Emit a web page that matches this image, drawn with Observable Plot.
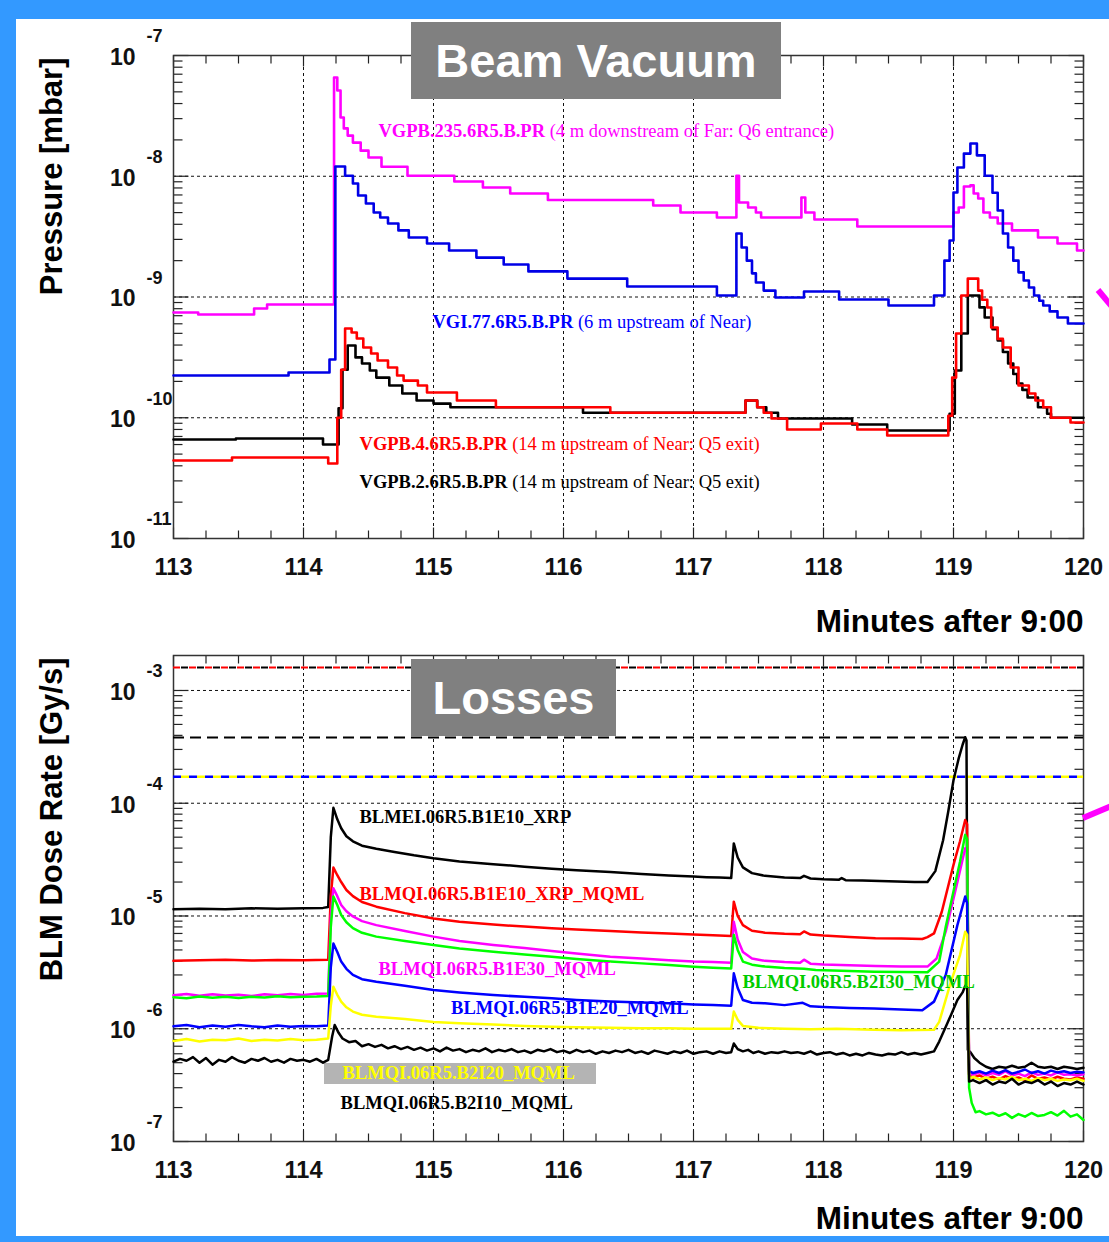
<!DOCTYPE html>
<html><head><meta charset="utf-8">
<script src="https://cdn.jsdelivr.net/npm/d3@7"></script>
<script src="https://cdn.jsdelivr.net/npm/@observablehq/plot@0.6"></script>
<style>
html,body{margin:0;padding:0;}
body{width:1109px;height:1242px;background:#3399ff;position:relative;overflow:hidden;}
#sheet{position:absolute;left:16px;top:19px;width:1093px;height:1217px;background:#fff;overflow:hidden;}
#inner{position:absolute;left:-16px;top:-19px;width:1109px;height:1242px;}
.abs{position:absolute;}
.title{position:absolute;background:#808080;color:#fff;font:bold 47px "Liberation Sans",Arial,sans-serif;display:flex;align-items:center;justify-content:center;}
.arrow{position:absolute;height:6px;background:#ff00ff;transform-origin:0 50%;}
</style></head>
<body>
<div id="sheet"><div id="inner">
  <div class="abs" style="left:324px;top:1063px;width:272px;height:21px;background:#b4b4b4"></div>
  <div id="top" class="abs" style="left:0;top:0"></div>
  <div id="bottom" class="abs" style="left:0;top:640px"></div>
  <div class="title" style="left:411px;top:22px;width:370px;height:77px">Beam Vacuum</div>
  <div class="title" style="left:411px;top:659px;width:205px;height:77px">Losses</div>
  <div class="arrow" style="left:1098px;top:287px;width:22px;transform:rotate(50deg)"></div>
  <div class="arrow" style="left:1083px;top:815px;width:32px;transform:rotate(-23deg)"></div>
</div></div>
<script>
// ---------------- DATA ----------------
const xMajor = [113, 114, 115, 116, 117, 118, 119, 120];
const vacDecades = [1e-11, 1e-10, 1e-9, 1e-8, 1e-7];
const blmDecades = [1e-7, 1e-6, 1e-5, 1e-4, 1e-3];

// Pressure [mbar] vs minutes after 9:00 (step data)
const vgpb235 = [[113.00,7.44e-10],[113.19,7.16e-10],[113.62,8.03e-10],[113.72,8.67e-10],[114.235,6.57e-8],[114.26,5.13e-8],[114.285,3.07e-8],[114.31,2.49e-8],[114.34,2.17e-8],[114.38,1.90e-8],[114.44,1.63e-8],[114.50,1.43e-8],[114.60,1.20e-8],[114.80,1.01e-8],[115.16,9.05e-9],[115.38,8.07e-9],[115.59,7.20e-9],[115.88,6.35e-9],[116.69,5.73e-9],[116.90,5.01e-9],[117.18,4.55e-9],[117.33,1.01e-8],[117.35,6.06e-9],[117.42,5.51e-9],[117.48,5.01e-9],[117.52,4.55e-9],[117.83,6.67e-9],[117.86,5.01e-9],[117.93,4.38e-9],[118.26,3.84e-9],[119.00,5.01e-9],[119.04,5.51e-9],[119.08,8.22e-9],[119.13,8.4e-9],[119.155,7.2e-9],[119.19,6.55e-9],[119.23,5.01e-9],[119.28,4.55e-9],[119.34,4.06e-9],[119.45,3.56e-9],[119.65,3.11e-9],[119.80,2.77e-9],[119.95,2.43e-9],[120.0,2.43e-9]];
const vgi77 = [[113.00,2.24e-10],[113.885,2.37e-10],[114.20,3.04e-10],[114.245,1.205e-8],[114.32,1.01e-8],[114.38,8.71e-9],[114.42,6.93e-9],[114.48,5.95e-9],[114.54,5.01e-9],[114.59,4.55e-9],[114.65,4.06e-9],[114.73,3.56e-9],[114.81,3.11e-9],[114.95,2.77e-9],[115.12,2.43e-9],[115.33,2.12e-9],[115.54,1.86e-9],[115.73,1.63e-9],[116.03,1.42e-9],[116.49,1.22e-9],[117.18,1.03e-9],[117.33,3.36e-9],[117.37,2.57e-9],[117.41,2.00e-9],[117.45,1.57e-9],[117.48,1.32e-9],[117.54,1.13e-9],[117.63,9.9e-10],[117.85,1.11e-9],[118.12,9.53e-10],[118.50,8.5e-10],[118.85,1.03e-9],[118.93,2.0e-9],[118.97,2.94e-9],[119.00,7.33e-9],[119.03,1.18e-8],[119.08,1.54e-8],[119.13,1.87e-8],[119.18,1.49e-8],[119.24,1.01e-8],[119.30,7.3e-9],[119.34,5.2e-9],[119.38,3.36e-9],[119.42,2.57e-9],[119.46,2.0e-9],[119.50,1.6e-9],[119.54,1.37e-9],[119.58,1.2e-9],[119.62,1.03e-9],[119.66,9.3e-10],[119.69,8.5e-10],[119.74,7.6e-10],[119.80,6.77e-10],[119.88,6.03e-10],[120.0,6.03e-10]];
const vgpb4 = [[113.00,4.43e-11],[113.45,4.69e-11],[114.19,4.18e-11],[114.26,1.0e-10],[114.29,2.5e-10],[114.32,5.48e-10],[114.37,5.08e-10],[114.41,4.53e-10],[114.46,3.82e-10],[114.52,3.40e-10],[114.57,2.98e-10],[114.65,2.61e-10],[114.72,2.24e-10],[114.77,2.03e-10],[114.88,1.85e-10],[114.95,1.62e-10],[115.18,1.39e-10],[115.48,1.22e-10],[116.36,1.10e-10],[117.40,1.39e-10],[117.49,1.22e-10],[117.54,1.10e-10],[117.60,9.86e-11],[117.72,8.0e-11],[117.98,8.96e-11],[118.26,8.0e-11],[118.49,7.13e-11],[118.96,1.04e-10],[118.99,2.15e-10],[119.02,4.99e-10],[119.06,1.03e-9],[119.11,1.42e-9],[119.19,1.13e-9],[119.22,9.5e-10],[119.26,8.18e-10],[119.29,5.59e-10],[119.34,4.5e-10],[119.38,3.82e-10],[119.44,2.61e-10],[119.50,1.85e-10],[119.58,1.59e-10],[119.63,1.39e-10],[119.69,1.22e-10],[119.75,1.0e-10],[119.90,9.14e-11],[120.0,9.14e-11]];
const vgpb2 = [[113.00,6.61e-11],[113.48,6.73e-11],[114.15,6.0e-11],[114.27,1.2e-10],[114.30,2.5e-10],[114.34,3.97e-10],[114.40,3.16e-10],[114.45,2.81e-10],[114.51,2.46e-10],[114.56,2.15e-10],[114.66,1.85e-10],[114.76,1.59e-10],[114.87,1.39e-10],[115.0,1.31e-10],[115.13,1.22e-10],[116.15,1.10e-10],[117.40,1.39e-10],[117.49,1.22e-10],[117.56,1.10e-10],[117.65,9.86e-11],[118.22,8.79e-11],[118.49,7.84e-11],[118.97,1.08e-10],[119.01,2.46e-10],[119.06,4.99e-10],[119.11,1.03e-9],[119.20,8.2e-10],[119.24,6.77e-10],[119.30,5.4e-10],[119.34,4.36e-10],[119.38,3.5e-10],[119.42,2.81e-10],[119.46,2.3e-10],[119.49,1.92e-10],[119.53,1.7e-10],[119.57,1.47e-10],[119.65,1.22e-10],[119.72,1.08e-10],[119.75,1.0e-10],[120.0,1.0e-10]];

// BLM dose rate [Gy/s]
const blmei = [[113.0,1.15e-5],[113.2,1.16e-5],[113.4,1.15e-5],[113.6,1.17e-5],[113.8,1.16e-5],[114.0,1.17e-5],[114.15,1.18e-5],[114.19,1.2e-5],[114.21,5.0e-5],[114.23,9.1e-5],[114.26,7.2e-5],[114.29,6.0e-5],[114.33,5.1e-5],[114.38,4.6e-5],[114.45,4.2e-5],[114.56,3.95e-5],[114.7,3.7e-5],[114.85,3.45e-5],[115.0,3.25e-5],[115.2,3.05e-5],[115.46,2.88e-5],[115.7,2.74e-5],[115.91,2.62e-5],[116.1,2.54e-5],[116.36,2.45e-5],[116.6,2.36e-5],[116.81,2.29e-5],[117.0,2.24e-5],[117.1,2.21e-5],[117.2,2.19e-5],[117.29,2.17e-5],[117.31,4.4e-5],[117.34,3.3e-5],[117.38,2.7e-5],[117.45,2.4e-5],[117.55,2.27e-5],[117.7,2.2e-5],[117.82,2.17e-5],[117.85,2.27e-5],[117.9,2.15e-5],[118.0,2.12e-5],[118.12,2.1e-5],[118.14,2.17e-5],[118.17,2.08e-5],[118.3,2.06e-5],[118.5,2.03e-5],[118.7,2.0e-5],[118.8,2.0e-5],[118.86,2.5e-5],[118.92,4.7e-5],[118.96,8.5e-5],[119.0,1.6e-4],[119.04,2.5e-4],[119.07,3.3e-4],[119.09,3.85e-4],[119.1,3.6e-4],[119.11,6.5e-7],[119.13,6.2e-7],[119.16,5.5e-7],[119.2,5.0e-7],[119.25,4.6e-7],[119.3,4.4e-7],[119.35,4.6e-7],[119.4,4.5e-7],[119.45,4.7e-7],[119.5,4.5e-7],[119.55,4.6e-7],[119.6,5.0e-7],[119.65,4.6e-7],[119.7,4.5e-7],[119.75,4.6e-7],[119.8,4.4e-7],[119.85,4.6e-7],[119.9,4.5e-7],[119.95,4.4e-7],[120.0,4.5e-7]];
const b1e10 = [[113.0,4.0e-6],[113.2,4.05e-6],[113.4,4.1e-6],[113.6,4.02e-6],[113.8,4.08e-6],[114.0,4.05e-6],[114.19,4.1e-6],[114.21,1.5e-5],[114.23,2.69e-5],[114.26,2.3e-5],[114.29,2.0e-5],[114.33,1.7e-5],[114.38,1.5e-5],[114.45,1.33e-5],[114.56,1.21e-5],[114.78,1.06e-5],[115.0,9.5e-6],[115.2,8.9e-6],[115.46,8.4e-6],[115.7,8.05e-6],[115.91,7.8e-6],[116.1,7.6e-6],[116.36,7.35e-6],[116.6,7.15e-6],[116.81,7.0e-6],[117.0,6.85e-6],[117.15,6.75e-6],[117.29,6.65e-6],[117.31,1.34e-5],[117.34,1.0e-5],[117.38,8.3e-6],[117.45,7.4e-6],[117.55,7.1e-6],[117.7,6.95e-6],[117.82,6.9e-6],[117.85,7.3e-6],[117.9,6.85e-6],[118.0,6.7e-6],[118.2,6.5e-6],[118.4,6.35e-6],[118.6,6.3e-6],[118.76,6.25e-6],[118.8,6.5e-6],[118.85,7.0e-6],[118.91,1.09e-5],[119.0,2.84e-5],[119.05,4.6e-5],[119.09,7.1e-5],[119.105,6.5e-5],[119.12,3.9e-7],[119.15,3.7e-7],[119.2,3.85e-7],[119.25,3.6e-7],[119.3,3.75e-7],[119.35,3.55e-7],[119.4,3.8e-7],[119.45,3.6e-7],[119.5,3.7e-7],[119.55,3.5e-7],[119.6,3.85e-7],[119.65,3.6e-7],[119.7,3.7e-7],[119.75,3.55e-7],[119.8,3.75e-7],[119.85,3.6e-7],[119.9,3.55e-7],[119.95,3.7e-7],[120.0,3.6e-7]];
const b1e30 = [[113.0,1.98e-6],[113.1,2.03e-6],[113.2,1.96e-6],[113.3,2.02e-6],[113.4,1.97e-6],[113.5,2.0e-6],[113.6,1.95e-6],[113.7,2.02e-6],[113.8,1.98e-6],[113.9,2.03e-6],[114.0,1.99e-6],[114.1,2.04e-6],[114.19,2.05e-6],[114.21,1.0e-5],[114.23,1.76e-5],[114.26,1.5e-5],[114.29,1.25e-5],[114.33,1.1e-5],[114.38,9.9e-6],[114.45,9.0e-6],[114.56,8.3e-6],[114.78,7.36e-6],[115.0,6.56e-6],[115.2,6.0e-6],[115.46,5.53e-6],[115.7,5.2e-6],[115.91,4.89e-6],[116.1,4.65e-6],[116.36,4.35e-6],[116.6,4.2e-6],[116.81,4.06e-6],[117.0,3.95e-6],[117.15,3.9e-6],[117.29,3.85e-6],[117.31,8.9e-6],[117.34,6.2e-6],[117.38,4.8e-6],[117.45,4.2e-6],[117.55,4.0e-6],[117.7,3.9e-6],[117.82,3.85e-6],[117.85,4.1e-6],[117.9,3.78e-6],[118.0,3.72e-6],[118.2,3.66e-6],[118.4,3.6e-6],[118.6,3.57e-6],[118.8,3.56e-6],[118.87,4.2e-6],[118.94,7.26e-6],[119.03,2.0e-5],[119.09,3.99e-5],[119.105,3.7e-5],[119.12,4.0e-7],[119.15,3.9e-7],[119.2,4.1e-7],[119.25,3.85e-7],[119.3,4.05e-7],[119.35,3.9e-7],[119.4,4.2e-7],[119.45,3.85e-7],[119.5,4.0e-7],[119.55,3.8e-7],[119.6,4.1e-7],[119.65,3.9e-7],[119.7,4.0e-7],[119.75,3.85e-7],[119.8,4.1e-7],[119.85,3.9e-7],[119.9,3.95e-7],[119.95,3.85e-7],[120.0,3.95e-7]];
const b2i30 = [[113.0,1.9e-6],[113.1,1.86e-6],[113.2,1.93e-6],[113.3,1.88e-6],[113.4,1.92e-6],[113.5,1.87e-6],[113.6,1.92e-6],[113.7,1.89e-6],[113.8,1.94e-6],[113.9,1.9e-6],[114.0,1.92e-6],[114.1,1.93e-6],[114.19,1.95e-6],[114.21,8e-6],[114.23,1.49e-5],[114.26,1.25e-5],[114.29,1.02e-5],[114.33,8.8e-6],[114.38,7.8e-6],[114.45,7.1e-6],[114.56,6.56e-6],[114.78,6.0e-6],[115.0,5.53e-6],[115.2,5.15e-6],[115.46,4.82e-6],[115.7,4.55e-6],[115.91,4.35e-6],[116.1,4.15e-6],[116.36,3.94e-6],[116.6,3.8e-6],[116.81,3.67e-6],[117.0,3.55e-6],[117.15,3.48e-6],[117.29,3.43e-6],[117.31,6.8e-6],[117.34,5.0e-6],[117.38,3.94e-6],[117.45,3.7e-6],[117.55,3.56e-6],[117.7,3.45e-6],[117.85,3.4e-6],[117.94,3.32e-6],[118.2,3.25e-6],[118.39,3.21e-6],[118.6,3.18e-6],[118.8,3.17e-6],[118.89,3.94e-6],[118.94,8.0e-6],[119.05,3.03e-5],[119.09,5.24e-5],[119.105,4.8e-5],[119.12,3.0e-7],[119.14,2.2e-7],[119.17,1.82e-7],[119.2,1.86e-7],[119.25,1.74e-7],[119.3,1.8e-7],[119.35,1.69e-7],[119.4,1.78e-7],[119.45,1.62e-7],[119.5,1.75e-7],[119.55,1.66e-7],[119.6,1.79e-7],[119.65,1.68e-7],[119.7,1.72e-7],[119.75,1.82e-7],[119.8,1.7e-7],[119.85,1.87e-7],[119.9,1.66e-7],[119.95,1.74e-7],[120.0,1.55e-7]];
const b1e20 = [[113.0,1.05e-6],[113.1,1.08e-6],[113.2,1.03e-6],[113.3,1.07e-6],[113.4,1.04e-6],[113.5,1.08e-6],[113.6,1.05e-6],[113.7,1.03e-6],[113.8,1.07e-6],[113.9,1.04e-6],[114.0,1.06e-6],[114.1,1.05e-6],[114.19,1.07e-6],[114.21,3.5e-6],[114.23,5.7e-6],[114.26,4.8e-6],[114.29,3.94e-6],[114.33,3.4e-6],[114.38,3.0e-6],[114.45,2.75e-6],[114.56,2.61e-6],[114.78,2.41e-6],[115.0,2.21e-6],[115.2,2.1e-6],[115.46,1.99e-6],[115.7,1.92e-6],[115.91,1.86e-6],[116.1,1.8e-6],[116.36,1.74e-6],[116.6,1.71e-6],[116.81,1.68e-6],[117.0,1.64e-6],[117.15,1.62e-6],[117.29,1.6e-6],[117.31,3.1e-6],[117.34,2.3e-6],[117.38,1.8e-6],[117.45,1.7e-6],[117.55,1.68e-6],[117.7,1.62e-6],[117.84,1.7e-6],[117.9,1.58e-6],[118.0,1.56e-6],[118.2,1.53e-6],[118.39,1.51e-6],[118.6,1.48e-6],[118.76,1.46e-6],[118.85,1.74e-6],[118.94,2.99e-6],[119.03,8.3e-6],[119.09,1.49e-5],[119.105,1.3e-5],[119.12,4.2e-7],[119.15,4.05e-7],[119.2,4.2e-7],[119.25,4.0e-7],[119.3,4.25e-7],[119.35,4.05e-7],[119.4,4.3e-7],[119.45,4.0e-7],[119.5,4.15e-7],[119.55,4.35e-7],[119.6,4.05e-7],[119.65,4.2e-7],[119.7,4.0e-7],[119.75,4.25e-7],[119.8,4.1e-7],[119.85,4.2e-7],[119.9,4.05e-7],[119.95,4.15e-7],[120.0,4.1e-7]];
const b2i20 = [[113.0,7.8e-7],[113.1,8.1e-7],[113.2,7.7e-7],[113.3,8.0e-7],[113.4,7.9e-7],[113.5,8.2e-7],[113.6,7.8e-7],[113.7,8.0e-7],[113.8,7.85e-7],[113.9,8.1e-7],[114.0,7.9e-7],[114.1,8.0e-7],[114.19,8.2e-7],[114.21,1.6e-6],[114.23,2.36e-6],[114.26,2.0e-6],[114.29,1.74e-6],[114.33,1.55e-6],[114.38,1.42e-6],[114.45,1.33e-6],[114.56,1.28e-6],[114.78,1.22e-6],[115.0,1.15e-6],[115.2,1.12e-6],[115.46,1.09e-6],[115.7,1.06e-6],[115.91,1.04e-6],[116.1,1.03e-6],[116.36,1.02e-6],[116.6,1.01e-6],[116.81,1.01e-6],[117.0,1.0e-6],[117.15,1.0e-6],[117.29,1.0e-6],[117.31,1.42e-6],[117.34,1.2e-6],[117.38,1.06e-6],[117.5,1.02e-6],[117.7,1.0e-6],[117.9,0.99e-6],[118.1,1.0e-6],[118.39,0.98e-6],[118.6,0.97e-6],[118.85,0.98e-6],[118.89,1.15e-6],[118.98,2.6e-6],[119.05,4.5e-6],[119.09,7.26e-6],[119.105,6.8e-6],[119.12,3.6e-7],[119.15,3.75e-7],[119.2,3.55e-7],[119.25,3.7e-7],[119.3,3.5e-7],[119.35,3.65e-7],[119.4,3.55e-7],[119.45,3.75e-7],[119.5,3.5e-7],[119.55,3.6e-7],[119.6,3.45e-7],[119.65,3.65e-7],[119.7,3.5e-7],[119.75,3.6e-7],[119.8,3.45e-7],[119.85,3.55e-7],[119.9,3.5e-7],[119.95,3.6e-7],[120.0,3.45e-7]];
const b2i10 = [[113.0,5.1e-7],[113.05,5.4e-7],[113.1,5.2e-7],[113.15,5.6e-7],[113.2,5.0e-7],[113.25,5.5e-7],[113.3,4.8e-7],[113.35,5.3e-7],[113.4,5.1e-7],[113.45,5.6e-7],[113.5,5.2e-7],[113.55,5.0e-7],[113.6,5.4e-7],[113.65,5.2e-7],[113.7,5.5e-7],[113.75,5.1e-7],[113.8,5.3e-7],[113.85,5.0e-7],[113.9,5.4e-7],[113.95,5.2e-7],[114.0,5.3e-7],[114.05,5.1e-7],[114.1,5.4e-7],[114.15,5.0e-7],[114.19,5.3e-7],[114.22,8.5e-7],[114.24,1.08e-6],[114.27,9.2e-7],[114.3,8.2e-7],[114.35,7.6e-7],[114.4,7.8e-7],[114.45,7.0e-7],[114.5,7.3e-7],[114.55,6.9e-7],[114.6,7.2e-7],[114.65,6.7e-7],[114.7,7.0e-7],[114.75,6.6e-7],[114.8,6.9e-7],[114.85,6.5e-7],[114.9,6.8e-7],[114.95,6.4e-7],[115.0,6.7e-7],[115.05,6.3e-7],[115.1,6.8e-7],[115.15,6.4e-7],[115.2,6.6e-7],[115.25,6.2e-7],[115.3,6.5e-7],[115.35,6.3e-7],[115.4,6.7e-7],[115.45,6.2e-7],[115.5,6.5e-7],[115.55,6.3e-7],[115.6,6.6e-7],[115.65,6.2e-7],[115.7,6.4e-7],[115.75,6.1e-7],[115.8,6.5e-7],[115.85,6.3e-7],[115.9,6.6e-7],[115.95,6.2e-7],[116.0,6.4e-7],[116.05,6.1e-7],[116.1,6.5e-7],[116.15,6.2e-7],[116.2,6.4e-7],[116.25,6.0e-7],[116.3,6.3e-7],[116.35,6.1e-7],[116.4,6.4e-7],[116.45,6.2e-7],[116.5,6.5e-7],[116.55,6.1e-7],[116.6,6.3e-7],[116.65,6.0e-7],[116.7,6.4e-7],[116.75,6.2e-7],[116.8,6.0e-7],[116.85,6.3e-7],[116.9,6.1e-7],[116.95,6.4e-7],[117.0,6.0e-7],[117.05,6.2e-7],[117.1,6.3e-7],[117.15,6.0e-7],[117.2,6.3e-7],[117.25,6.1e-7],[117.29,6.2e-7],[117.31,7.4e-7],[117.34,6.6e-7],[117.38,6.3e-7],[117.42,6.5e-7],[117.46,6.1e-7],[117.5,6.3e-7],[117.55,6.0e-7],[117.6,6.2e-7],[117.65,6.1e-7],[117.7,6.3e-7],[117.75,6.1e-7],[117.8,6.2e-7],[117.85,6.0e-7],[117.9,6.3e-7],[117.95,5.9e-7],[118.0,6.1e-7],[118.05,6.2e-7],[118.1,5.9e-7],[118.15,6.1e-7],[118.2,5.8e-7],[118.25,6.0e-7],[118.3,5.8e-7],[118.35,6.1e-7],[118.4,5.9e-7],[118.45,5.8e-7],[118.5,6.0e-7],[118.55,5.9e-7],[118.6,6.2e-7],[118.65,5.9e-7],[118.7,6.1e-7],[118.75,5.9e-7],[118.8,6.1e-7],[118.85,6.3e-7],[118.89,7.7e-7],[118.95,1.1e-6],[118.98,1.32e-6],[119.03,1.8e-6],[119.07,2.1e-6],[119.09,2.4e-6],[119.105,2.3e-6],[119.12,3.4e-7],[119.15,3.5e-7],[119.2,3.3e-7],[119.25,3.5e-7],[119.3,3.2e-7],[119.35,3.4e-7],[119.4,3.3e-7],[119.45,3.6e-7],[119.5,3.2e-7],[119.55,3.4e-7],[119.6,3.3e-7],[119.65,3.5e-7],[119.7,3.2e-7],[119.75,3.4e-7],[119.8,3.1e-7],[119.85,3.3e-7],[119.9,3.2e-7],[119.95,3.4e-7],[120.0,3.2e-7]];

// Threshold levels [Gy/s]
const thresholds = [1.6e-3, 3.83e-4, 1.72e-4];

// Labels
const vacLabels = [
  {name: "VGPB.235.6R5.B.PR", desc: "(4 m downstream of Far: Q6 entrance)", color: "#ff00ff"},
  {name: "VGI.77.6R5.B.PR", desc: "(6 m upstream of Near)", color: "#0000ff"},
  {name: "VGPB.4.6R5.B.PR", desc: "(14 m upstream of Near: Q5 exit)", color: "#ff0000"},
  {name: "VGPB.2.6R5.B.PR", desc: "(14 m upstream of Near: Q5 exit)", color: "#000000"}
];
const vacLabelAt = [[114.577, 2.35e-8], [114.992, 6.15e-10], [114.431, 6.0e-11], [114.431, 2.91e-11]];
const blmLabels = [
  {name: "BLMEI.06R5.B1E10_XRP", color: "#000000"},
  {name: "BLMQI.06R5.B1E10_XRP_MQML", color: "#ff0000"},
  {name: "BLMQI.06R5.B1E30_MQML", color: "#ff00ff"},
  {name: "BLMQI.06R5.B1E20_MQML", color: "#0000ff"},
  {name: "BLMQI.06R5.B2I30_MQML", color: "#00cc00"},
  {name: "BLMQI.06R5.B2I20_MQML", color: "#ffff00"},
  {name: "BLMQI.06R5.B2I10_MQML", color: "#000000"}
];
const blmLabelAt = [[114.431, 7.48e-5], [114.431, 1.58e-5], [114.577, 3.36e-6], [115.135, 1.51e-6], [117.377, 2.57e-6], [114.3, 4.01e-7], [114.285, 2.17e-7]];

// ---------------- DRAWING ----------------
const SANS = "Liberation Sans, Arial, Helvetica, sans-serif";
const SERIF = "Liberation Serif, Times New Roman, serif";
const seg = (dx, dy) => ({draw(ctx) { ctx.moveTo(0, 0); ctx.lineTo(dx, dy); }});

const xMinor = d3.range(113, 120.001, 0.25).filter(d => Math.abs(d - Math.round(d)) > 1e-6);
function minorsOf(decades, maxV) {
  const out = [];
  decades.slice(0, -1).forEach(d => { for (let k = 2; k <= 9; k++) out.push(k * d); });
  return out.filter(v => v < maxV);
}
function axesMarks(decades, yMax, titleText, xTitleDy) {
  const yMinor = minorsOf(decades, yMax);
  const tickStyle = {stroke: "#222", fill: "none", strokeWidth: 1.2};
  const grid = decades.filter(d => d > decades[0] && d < yMax);
  return [
    Plot.ruleY(grid, {stroke: "#111", strokeWidth: 1, strokeDasharray: "3,3"}),
    Plot.ruleX(xMajor.filter(d => d > 113 && d < 120), {stroke: "#111", strokeWidth: 1, strokeDasharray: "3,3"}),
    Plot.dot(decades.filter(d => d <= yMax), {y: d => d, frameAnchor: "left", symbol: seg(15, 0), ...tickStyle}),
    Plot.dot(yMinor, {y: d => d, frameAnchor: "left", symbol: seg(9, 0), ...tickStyle}),
    Plot.dot(decades.filter(d => d <= yMax), {y: d => d, frameAnchor: "right", symbol: seg(-15, 0), ...tickStyle}),
    Plot.dot(yMinor, {y: d => d, frameAnchor: "right", symbol: seg(-9, 0), ...tickStyle}),
    Plot.dot(xMajor, {x: d => d, frameAnchor: "bottom", symbol: seg(0, -11), ...tickStyle}),
    Plot.dot(xMinor, {x: d => d, frameAnchor: "bottom", symbol: seg(0, -8), ...tickStyle}),
    Plot.dot(xMajor, {x: d => d, frameAnchor: "top", symbol: seg(0, 11), ...tickStyle}),
    Plot.dot(xMinor, {x: d => d, frameAnchor: "top", symbol: seg(0, 8), ...tickStyle}),
    Plot.frame({stroke: "#333", strokeWidth: 1.5}),
    Plot.text(decades, {y: d => d, frameAnchor: "left", text: () => "10", dx: -38, dy: 2, textAnchor: "end",
      fontFamily: SANS, fontWeight: "bold", fontSize: 23, fill: "#111"}),
    Plot.text(decades, {y: d => d, frameAnchor: "left", text: d => String(Math.round(Math.log10(d))), dx: -27, dy: -19,
      textAnchor: "start", fontFamily: SANS, fontWeight: "bold", fontSize: 18, fill: "#111"}),
    Plot.text(xMajor, {x: d => d, frameAnchor: "bottom", text: d => String(d), dy: 36,
      fontFamily: SANS, fontWeight: "bold", fontSize: 23.5, fill: "#111"}),
    Plot.text(["Minutes after 9:00"], {frameAnchor: "bottom-right", text: d => d, dy: xTitleDy, textAnchor: "end",
      fontFamily: SANS, fontWeight: "bold", fontSize: 31.5, fill: "#000"}),
    Plot.text([titleText], {frameAnchor: "top-left", text: d => d, rotate: -90, textAnchor: "end", dx: -134, dy: 2,
      fontFamily: SANS, fontWeight: "bold", fontSize: 31, fill: "#000"})
  ];
}

const ctx = document.createElement("canvas").getContext("2d");
ctx.font = "bold 18.5px 'Liberation Serif'";

const vacLines = [
  [vgpb235, "#ff00ff"], [vgi77, "#0000e6"], [vgpb2, "#000000"], [vgpb4, "#ff0000"]
].map(([data, color]) => Plot.line(data, {x: d => d[0], y: d => d[1], stroke: color, strokeWidth: 2.6, curve: "step-after"}));

const vacText = [];
vacLabels.forEach((L, i) => {
  const at = [vacLabelAt[i]];
  vacText.push(Plot.text(at, {x: d => d[0], y: d => d[1], text: () => L.name, textAnchor: "start",
    fontFamily: SERIF, fontWeight: "bold", fontSize: 18.5, fill: L.color}));
  const w = ctx.measureText(L.name + " ").width;
  vacText.push(Plot.text(at, {x: d => d[0], y: d => d[1], text: () => L.desc, textAnchor: "start", dx: w,
    fontFamily: SERIF, fontWeight: "normal", fontSize: 18.5, fill: L.color}));
});

const topPlot = Plot.plot({
  width: 1109, height: 640,
  marginLeft: 173, marginRight: 26, marginTop: 55, marginBottom: 102,
  x: {domain: [113, 120], axis: null},
  y: {type: "log", domain: [1e-11, 1e-7], axis: null},
  style: {background: "transparent", overflow: "visible"},
  marks: [
    ...axesMarks(vacDecades, 1e-7, "Pressure [mbar]", 93),
    ...vacLines,
    ...vacText
  ]
});
document.getElementById("top").appendChild(topPlot);

const blmLines = [
  [blmei, "#000000"], [b1e10, "#ff0000"], [b1e30, "#ff00ff"], [b2i30, "#00ff00"],
  [b1e20, "#0000ff"], [b2i20, "#ffff00"], [b2i10, "#000000"]
].map(([data, color]) => Plot.line(data, {x: d => d[0], y: d => d[1], stroke: color, strokeWidth: 2.5}));

const bottomPlot = Plot.plot({
  width: 1109, height: 602,
  marginLeft: 173, marginRight: 26, marginTop: 15, marginBottom: 101,
  x: {domain: [113, 120], axis: null},
  y: {type: "log", domain: [1e-7, 2.043e-3], axis: null},
  color: {type: "identity"},
  style: {background: "transparent", overflow: "visible"},
  marks: [
    ...axesMarks(blmDecades, 2.043e-3, "BLM Dose Rate [Gy/s]", 87),
    Plot.ruleY([thresholds[0]], {stroke: "#ff0000", strokeWidth: 2, strokeDasharray: "7,9"}),
    Plot.ruleY([thresholds[0]], {stroke: "#000000", strokeWidth: 2, strokeDasharray: "7,9", strokeDashoffset: 8}),
    Plot.ruleY([thresholds[1]], {stroke: "#000000", strokeWidth: 2.2, strokeDasharray: "11,6"}),
    Plot.ruleY([thresholds[2]], {stroke: "#0000ff", strokeWidth: 2.5, strokeDasharray: "8,8"}),
    Plot.ruleY([thresholds[2]], {stroke: "#ffff00", strokeWidth: 2.5, strokeDasharray: "8,8", strokeDashoffset: 8}),
    ...blmLines,
    Plot.text(blmLabels.map((L, i) => ({...L, t: blmLabelAt[i][0], v: blmLabelAt[i][1]})),
      {x: "t", y: "v", text: "name", fill: "color", textAnchor: "start",
       fontFamily: SERIF, fontWeight: "bold", fontSize: 18.5})
  ]
});
document.getElementById("bottom").appendChild(bottomPlot);
</script>
</body></html>
